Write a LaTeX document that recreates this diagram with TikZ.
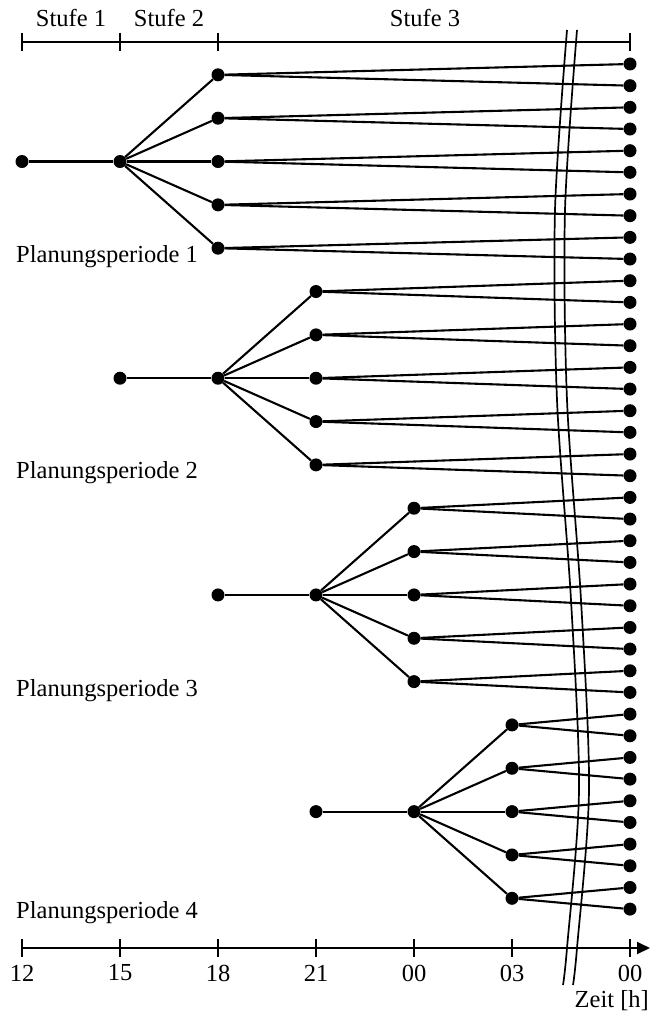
\documentclass[tikz,border=0pt]{standalone}
\usepackage{fontspec}
\setmainfont{Liberation Serif}
\usetikzlibrary{arrows.meta}
\begin{document}
\begin{tikzpicture}[x=1pt,y=-1pt,
  dot/.style={circle,fill=black,inner sep=0pt,minimum size=13pt},
  edge/.style={line width=2.1pt},
  lbl/.style={font=\fontsize{24.5}{28}\selectfont,inner sep=0pt},
  axisline/.style={line width=1.8pt},
  breakline/.style={line width=1.7pt}]
\useasboundingbox (0,0) rectangle (650,1016);

% end points of all scenarios (last column)
\foreach \k in {0,...,39}{
  \node[dot] (l\k) at (630,{64+21.67*\k}) {};
}

% four planning periods: root, branching node, five children
\foreach \p in {0,...,3}{
  \pgfmathsetmacro\ry{64+21.67*(10*\p+4.5)}
  \node[dot] (r\p) at ({22+98*\p},\ry) {};
  \node[dot] (b\p) at ({120+98*\p},\ry) {};
  \draw[edge] (r\p) -- (b\p);
  \foreach \c in {0,...,4}{
    \pgfmathtruncatemacro\la{10*\p+2*\c}
    \pgfmathtruncatemacro\lb{\la+1}
    \node[dot] (c\p\c) at ({218+98*\p},{64+21.67*(10*\p+2*\c+0.5)}) {};
    \draw[edge] (b\p) -- (c\p\c);
    \draw[edge] (c\p\c) -- (l\la);
    \draw[edge] (c\p\c) -- (l\lb);
  }
}

% period labels
\node[lbl,anchor=west] (pp1) at (16,257) {Planungsperiode 1};
\node[lbl,anchor=west] (pp2) at (16,473) {Planungsperiode 2};
\node[lbl,anchor=west] (pp3) at (16,691) {Planungsperiode 3};
\node[lbl,anchor=west] (pp4) at (16,913) {Planungsperiode 4};

% stage bar
\coordinate (s0) at (22,42);
\coordinate (s3) at (630,42);
\draw[axisline] (s0) -- (s3);
\foreach \x in {22,120,218,630}{
  \draw[axisline] (\x,33) -- (\x,51);
}
\node[lbl] (st1) at (71,18) {Stufe 1};
\node[lbl] (st2) at (169,18) {Stufe 2};
\node[lbl] (st3) at (425,18) {Stufe 3};

% time axis
\coordinate (a0) at (22,948);
\coordinate (aend) at (650,948);
\draw[axisline,-{Triangle[length=13pt,width=12pt]}] (a0) -- (aend);
\foreach \x/\t in {22/12,120/15,218/18,316/21,414/00,512/03,630/00}{
  \draw[axisline] (\x,939) -- (\x,957);
  \node[lbl] at (\x,973) {\t};
}
\node[lbl,anchor=east] (zeit) at (649,1001) {Zeit [h]};

% time break
\draw[breakline] plot[smooth] coordinates {(567,30) (555,210) (557,400) (571,600) (579,790) (567,948) (563,985)};
\draw[breakline] plot[smooth] coordinates {(577,30) (565,210) (567,400) (581,600) (589,790) (577,948) (573,985)};
\end{tikzpicture}
\end{document}
